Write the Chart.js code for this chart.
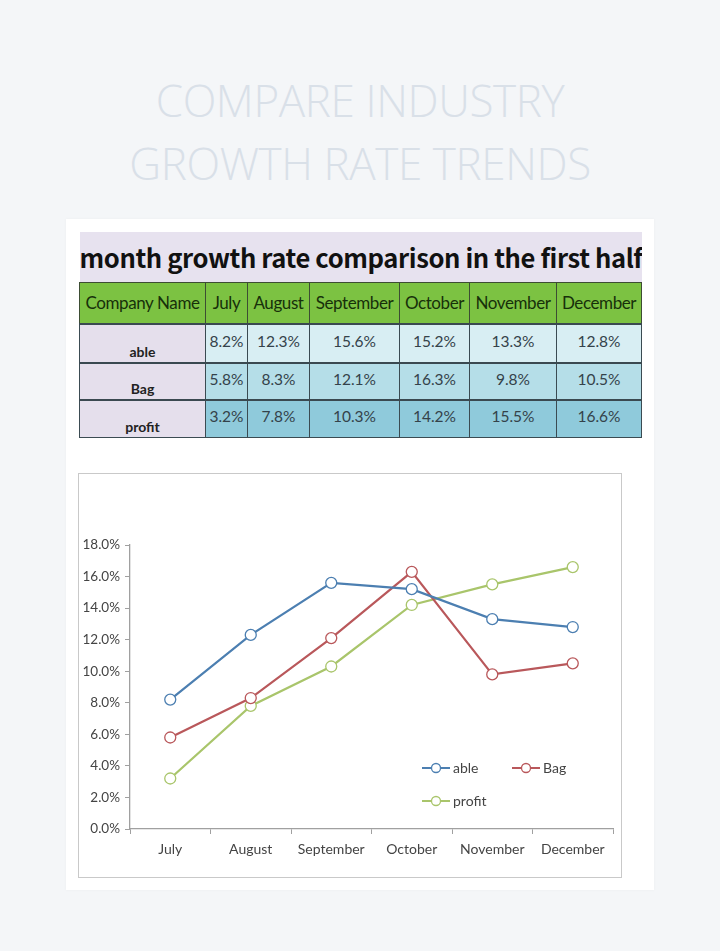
<!DOCTYPE html>
<html>
<head>
<meta charset="utf-8">
<script src="https://cdn.jsdelivr.net/npm/chart.js@4.4.1/dist/chart.umd.min.js"></script>
<style>
  html,body{margin:0;padding:0;}
  body{width:720px;height:951px;background:#f4f6f8;position:relative;overflow:hidden;font-family:"Lato","Open Sans",sans-serif;}
  #title{position:absolute;left:0;top:69px;width:720px;text-align:center;color:#d9e0e8;font-family:"Open Sans",sans-serif;font-weight:300;font-size:44px;line-height:63px;letter-spacing:-0.4px;}
  #card{position:absolute;left:66px;top:219px;width:588px;height:671px;background:#fff;box-shadow:0 0 3px rgba(0,0,0,0.04);}
  #tbl{position:absolute;left:79px;top:232px;width:562px;border-collapse:collapse;table-layout:fixed;}
  #tbl td{padding:0;text-align:center;overflow:hidden;white-space:nowrap;line-height:16px;}
  #tbl .ttl td{background:#e7e2ef;height:50px;font-family:"Noto Sans CJK SC",sans-serif;font-weight:700;font-size:25.6px;line-height:30px;color:#111;letter-spacing:-0.4px;}
  #tbl .hdr td{background:#7cc242;height:40px;border:1px solid #3d4d33;font-size:17px;color:#17300a;letter-spacing:-0.4px;}
  #tbl .row td{border:1px solid #3b4b52;font-size:15.5px;color:#34424a;vertical-align:middle;}
  #tbl .row td.name{background:#e5dfec;font-weight:700;font-size:14px;color:#222;vertical-align:bottom;padding-bottom:2px;}
  #tbl tr.row{border-top:2px solid #3a4950;}
  #chartbox{position:absolute;left:78px;top:473px;width:542px;height:403px;border:1px solid #c9c9c9;background:#fff;}
  #chartbox canvas{position:absolute;left:0;top:0;}
</style>
</head>
<body>
<div id="title">COMPARE INDUSTRY<br>GROWTH RATE TRENDS</div>
<div id="card"></div>
<table id="tbl"></table>
<div id="chartbox"><canvas id="c" width="542" height="403"></canvas></div>
<script>
// ---- data ----
const tableTitle = 'month growth rate comparison in the first half';
const headerFirst = 'Company Name';
const categories = ['July', 'August', 'September', 'October', 'November', 'December'];
const seriesNames = ['able', 'Bag', 'profit'];
const ableValues = [8.2, 12.3, 15.6, 15.2, 13.3, 12.8];
const bagValues = [5.8, 8.3, 12.1, 16.3, 9.8, 10.5];
const profitValues = [3.2, 7.8, 10.3, 14.2, 15.5, 16.6];
const yTickValues = [0, 2, 4, 6, 8, 10, 12, 14, 16, 18];

// ---- styles ----
const seriesColors = ['#4c7fb1', '#b9585b', '#a9c56b'];
const colWidths = [126, 42, 62, 90, 70, 87, 85];
const nameCellHeights = [35, 33, 34];
const rowColors = ['#d8eef3', '#b5dee8', '#8fcadb'];
const allSeries = [ableValues, bagValues, profitValues];

// ---- table ----
const tbl = document.getElementById('tbl');
const cg = document.createElement('colgroup');
colWidths.forEach(w => { const c = document.createElement('col'); c.style.width = w + 'px'; cg.appendChild(c); });
tbl.appendChild(cg);
const tr0 = document.createElement('tr'); tr0.className = 'ttl';
const t0 = document.createElement('td'); t0.colSpan = 7; t0.textContent = tableTitle; tr0.appendChild(t0); tbl.appendChild(tr0);
const tr1 = document.createElement('tr'); tr1.className = 'hdr';
[headerFirst].concat(categories).forEach(h => { const td = document.createElement('td'); td.textContent = h; tr1.appendChild(td); });
tbl.appendChild(tr1);
seriesNames.forEach((n, i) => {
  const tr = document.createElement('tr'); tr.className = 'row';
  const nm = document.createElement('td'); nm.className = 'name'; nm.textContent = n; nm.style.height = nameCellHeights[i] + 'px'; tr.appendChild(nm);
  allSeries[i].forEach(v => { const td = document.createElement('td'); td.textContent = v.toFixed(1) + '%'; td.style.background = rowColors[i]; td.style.paddingBottom = '6px'; tr.appendChild(td); });
  tbl.appendChild(tr);
});

// ---- chart ----
const legendLayout = [ {x: 343, y: 294}, {x: 433, y: 294}, {x: 343, y: 327} ];
const insideLegend = {
  id: 'insideLegend',
  afterDraw(chart) {
    const ctx = chart.ctx;
    ctx.save();
    chart.data.datasets.forEach((ds, i) => {
      const p = legendLayout[i];
      ctx.strokeStyle = ds.borderColor; ctx.lineWidth = 2;
      ctx.beginPath(); ctx.moveTo(p.x, p.y); ctx.lineTo(p.x + 28, p.y); ctx.stroke();
      ctx.beginPath(); ctx.arc(p.x + 14, p.y, 4.5, 0, Math.PI * 2);
      ctx.fillStyle = '#fff'; ctx.fill(); ctx.lineWidth = 1.3; ctx.stroke();
      ctx.fillStyle = '#444'; ctx.font = '14px Lato, "Open Sans", sans-serif';
      ctx.textBaseline = 'middle'; ctx.textAlign = 'left';
      ctx.fillText(ds.label, p.x + 31, p.y);
    });
    ctx.restore();
  }
};

new Chart(document.getElementById('c'), {
  type: 'line',
  data: {
    labels: categories,
    datasets: seriesNames.map((n, i) => ({
      label: n,
      data: allSeries[i],
      borderColor: seriesColors[i],
      backgroundColor: '#fff',
      pointBackgroundColor: '#fff',
      pointBorderColor: seriesColors[i],
      pointRadius: 5.5,
      pointBorderWidth: 1.3,
      borderWidth: 2.2,
      tension: 0,
      fill: false
    }))
  },
  options: {
    responsive: false,
    animation: false,
    layout: { padding: { top: 71, right: 8, bottom: 0, left: 0 } },
    plugins: { legend: { display: false }, tooltip: { enabled: false } },
    scales: {
      x: {
        offset: true,
        grid: { offset: true, drawOnChartArea: false, tickLength: 5, color: '#a0a0a0' },
        border: { color: '#a0a0a0', width: 1.3 },
        ticks: { color: '#444', font: { family: 'Lato', size: 14 }, padding: 7, maxRotation: 0, autoSkip: false },
        afterFit: s => { s.height = 48; }
      },
      y: {
        min: 0, max: 18,
        afterBuildTicks: s => { s.ticks = yTickValues.map(v => ({ value: v })); },
        grid: { drawOnChartArea: false, tickLength: 5, color: '#a0a0a0' },
        border: { color: '#a0a0a0', width: 1.3 },
        ticks: { color: '#444', font: { family: 'Lato', size: 13.5 }, padding: 5, callback: v => Number(v).toFixed(1) + '%' },
        afterFit: s => { s.width = 51; }
      }
    }
  },
  plugins: [insideLegend]
});
</script>
</body>
</html>
